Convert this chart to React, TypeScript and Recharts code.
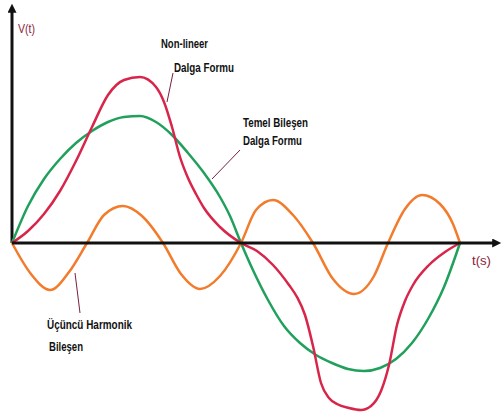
import React from "react";
import { LineChart, Line, XAxis, YAxis, ReferenceLine } from "recharts";

// t runs from the origin (0) to the end of one period (448); values are signed amplitudes
const fundamentalT = [0, 16, 32, 48, 64, 80, 96, 112, 128, 144, 160, 176, 192, 208, 218, 229, 240, 256, 272, 288, 304, 320, 336, 352, 368, 384, 400, 416, 432, 448];
const fundamentalV = [0, 37, 64, 84, 100, 112, 121, 126, 127, 121, 108, 90, 70, 46, 27, 0, -25, -57, -83, -100, -112, -120, -126, -128, -125, -116, -100, -76, -44, 0];

const nonlinearT = [0, 16, 32, 48, 64, 80, 96, 112, 128, 144, 152, 160, 168, 176, 184, 192, 208, 229, 245, 261, 277, 285, 293, 301, 309, 317, 325, 337, 349, 359, 369, 377, 385, 393, 401, 417, 433, 448];
const nonlinearV = [0, 12, 29, 52, 82, 116, 148, 163, 166, 156, 141, 116, 86, 65, 49, 35, 16, 0, -8, -22, -42, -54, -72, -103, -140, -155, -161, -165, -167, -163, -148, -122, -82, -58, -42, -22, -9, 0];

const harmonicT = [0, 19, 38, 57, 75, 92, 111, 130, 151, 169, 188, 208, 229, 244, 261, 281, 301, 321, 342, 362, 376, 393, 410, 428, 441, 448];
const harmonicV = [0, -31, -47, -29, 0, 28, 37, 27, 0, -31, -46, -33, 0, 33, 43, 28, 0, -36, -51, -33, 0, 34, 48, 39, 19, 0];

const zip = (t: number[], v: number[]) => t.map((x, i) => ({ t: x, v: v[i] }));

const fundamental = zip(fundamentalT, fundamentalV);
const nonlinear = zip(nonlinearT, nonlinearV);
const harmonic = zip(harmonicT, harmonicV);

const RED = "#d7264a";
const GREEN = "#21a05c";
const ORANGE = "#f27b2c";
const AXIS = "#111";
const LEADER = "#7a1f3d";
const MAROON = "#8b1c3a";

const W = 504;
const H = 417;

const labelFont = '"Liberation Sans Narrow", "Arial Narrow", "Liberation Sans", Arial, sans-serif';

export default function App() {
  return (
    <div style={{ position: "absolute", left: 0, top: 0, width: W, height: H, background: "#fff" }}>
      <LineChart width={W} height={H} margin={{ top: 3, right: 2, bottom: 3, left: 12 }}>
        <defs>
          <marker
            id="arrowHead"
            viewBox="0 0 10 10"
            markerWidth={10}
            markerHeight={9}
            refX={2}
            refY={5}
            orient="auto"
            markerUnits="userSpaceOnUse"
          >
            <path d="M0,0 L10,5 L0,10 z" fill={AXIS} />
          </marker>
        </defs>
        <XAxis type="number" dataKey="t" domain={[0, 490]} hide allowDuplicatedCategory={false} />
        <YAxis type="number" dataKey="v" domain={[-171, 240]} hide />

        <ReferenceLine
          segment={[{ x: 0, y: 0 }, { x: 0, y: 232 }]}
          stroke={AXIS}
          strokeWidth={3}
          markerEnd="url(#arrowHead)"
          ifOverflow="visible"
        />

        {/* leader lines from the notes to their curves */}
        <ReferenceLine segment={[{ x: 161, y: 170 }, { x: 155, y: 141 }]} stroke={LEADER} strokeWidth={1} ifOverflow="visible" />
        <ReferenceLine segment={[{ x: 228, y: 93 }, { x: 200, y: 64 }]} stroke={LEADER} strokeWidth={1} ifOverflow="visible" />
        <ReferenceLine segment={[{ x: 63, y: -30 }, { x: 68, y: -70 }]} stroke={LEADER} strokeWidth={1} ifOverflow="visible" />

        <Line data={fundamental} dataKey="v" type="monotone" stroke={GREEN} strokeWidth={2.5} dot={false} isAnimationActive={false} />
        <Line data={nonlinear} dataKey="v" type="monotone" stroke={RED} strokeWidth={2.5} dot={false} isAnimationActive={false} />
        <Line data={harmonic} dataKey="v" type="monotone" stroke={ORANGE} strokeWidth={2.5} dot={false} isAnimationActive={false} />

        <ReferenceLine
          segment={[{ x: 0, y: 0 }, { x: 482, y: 0 }]}
          stroke={AXIS}
          strokeWidth={3}
          markerEnd="url(#arrowHead)"
          ifOverflow="visible"
        />
      </LineChart>

      <svg width={W} height={H} style={{ position: "absolute", left: 0, top: 0, pointerEvents: "none" }}>
        <g fontFamily={labelFont} fontSize={13} fill={MAROON}>
          <text x={18} y={33} textLength={17} lengthAdjust="spacingAndGlyphs">V(t)</text>
          <text x={472} y={265} textLength={19} lengthAdjust="spacingAndGlyphs">t(s)</text>
        </g>
        <g fontFamily={labelFont} fontSize={13} fontWeight="bold" fill="#111">
          <text x={161} y={48} textLength={47} lengthAdjust="spacingAndGlyphs">Non-lineer</text>
          <text x={174} y={72} textLength={60} lengthAdjust="spacingAndGlyphs">Dalga Formu</text>
          <text x={243} y={127} textLength={65} lengthAdjust="spacingAndGlyphs">Temel Bileşen</text>
          <text x={243} y={145} textLength={59} lengthAdjust="spacingAndGlyphs">Dalga Formu</text>
          <text x={47} y={329} textLength={85} lengthAdjust="spacingAndGlyphs">Üçüncü Harmonik</text>
          <text x={49} y={351} textLength={34} lengthAdjust="spacingAndGlyphs">Bileşen</text>
        </g>
      </svg>
    </div>
  );
}
